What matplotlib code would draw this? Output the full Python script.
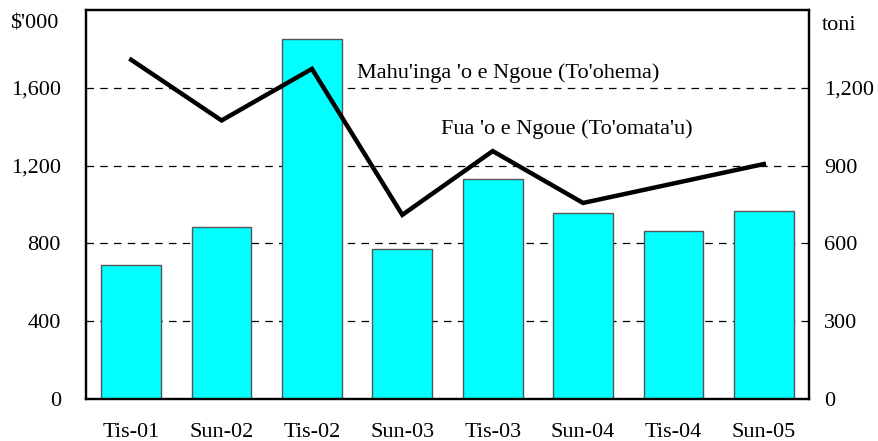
import matplotlib
matplotlib.use("Agg")
import matplotlib.pyplot as plt
from matplotlib.ticker import FuncFormatter

categories = ["Tis-01", "Sun-02", "Tis-02", "Sun-03", "Tis-03", "Sun-04", "Tis-04", "Sun-05"]
value_kds = [689, 884, 1851, 771, 1131, 956, 864, 967]      # $'000 (bars, left axis)
volume_tonnes = [1308, 1074, 1273, 710, 956, 756, 831, 906]  # toni (line, right axis)
left_ticks = [0, 400, 800, 1200, 1600]
right_ticks = [0, 300, 600, 900, 1200]

plt.rcParams['font.family'] = ['Liberation Serif', 'DejaVu Serif']
FS = 16

fig = plt.figure(figsize=(8.79, 4.41), dpi=100)
ax = fig.add_axes([86/879, 1 - 399/441, (809-86)/879, (399-10)/441])
x = list(range(len(categories)))

ax.set_ylim(0, 2000)
ax.set_xlim(-0.5, len(categories) - 0.5)
for t in left_ticks[1:]:
    ax.axhline(t, color='black', linestyle=(0, (6, 5)), linewidth=0.9, zorder=0)
ax.bar(x, value_kds, width=0.66, color='#00FFFF', edgecolor='#555555', linewidth=1.0, zorder=2)
ax.set_yticks(left_ticks)
ax.yaxis.set_major_formatter(FuncFormatter(lambda v, p: f"{int(v):,}"))
ax.set_xticks(x)
ax.set_xticklabels(categories)
ax.tick_params(axis='y', length=0, pad=18, labelsize=FS)
ax.tick_params(axis='x', length=0, pad=17, labelsize=FS)

ax2 = ax.twinx()
ax2.set_ylim(0, 1500)
ax2.plot(x, volume_tonnes, color='black', linewidth=3.2, zorder=3, solid_joinstyle='miter')
ax2.set_yticks(right_ticks)
ax2.yaxis.set_major_formatter(FuncFormatter(lambda v, p: f"{int(v):,}"))
ax2.tick_params(axis='y', length=0, pad=11, labelsize=FS)

for a in (ax, ax2):
    for s in a.spines.values():
        s.set_linewidth(1.6)
        s.set_color('black')

fig.text(10/879, 1 - 24/441, "$'000", fontsize=FS, va='center', ha='left')
fig.text(822/879, 1 - 26/441, "toni", fontsize=FS, va='center', ha='left')
fig.text(357/879, 1 - 73/441, "Mahu'inga 'o e Ngoue (To'ohema)", fontsize=FS, va='center', ha='left')
fig.text(441/879, 1 - 129/441, "Fua 'o e Ngoue (To'omata'u)", fontsize=FS, va='center', ha='left')

fig.savefig("out.png", dpi=100)
